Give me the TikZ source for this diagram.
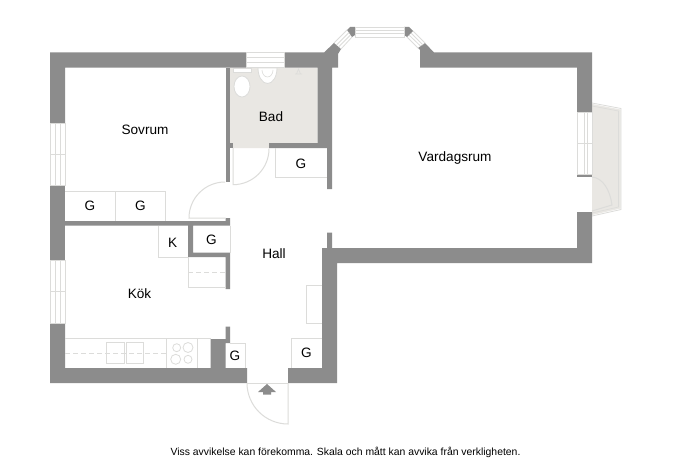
\documentclass[tikz,border=0pt]{standalone}
\usepackage{fontspec}
\setmainfont{Liberation Sans}
\definecolor{wallc}{HTML}{8C8C8C}
\definecolor{floorc}{HTML}{E9E7E3}
\definecolor{linec}{HTML}{DCDCDA}
\tikzset{
 wall/.style={fill=wallc,draw=none},
 fixture/.style={draw=linec,line width=0.8pt},
 thin fixture/.style={draw=linec,line width=0.6pt},
 room/.style={font=\fontsize{13.6}{15}\selectfont,text=black,inner sep=0pt},
 tag/.style={font=\fontsize{13.6}{15}\selectfont,text=black,inner sep=0pt},
 note/.style={font=\fontsize{10.4}{12}\selectfont,text=black,inner sep=0pt}
}
\begin{document}
\begin{tikzpicture}[x=1pt,y=-1pt]
\useasboundingbox (0,0) rectangle (690,460);
\fill[white] (0,0) rectangle (690,460);
% floors
\fill[floorc] (230,67.5) rectangle (317.5,143) (233,143) rectangle (269,148);
\fill[floorc] (592,104) -- (620.5,109.5) -- (620.5,208.5) -- (592,215) -- cycle;
\draw[fixture] (592,103) -- (621,108.5) -- (621,209.5) -- (592,216);
\draw[thin fixture] (592,106) -- (618.5,111) -- (618.5,207) -- (592,213);
% balcony door
\draw[fixture,line width=1pt] (592,177) .. controls (603,178) and (610,190) .. (612,205) -- (592,211);
% outer walls
\fill[wall] (50,52.5) -- (246,52.5) -- (246,67.5) -- (65,67.5) -- (65,123) -- (50,123) -- cycle;
\fill[wall] (284,52.5) -- (324,52.5) -- (334,43) -- (341,49) -- (338,54) -- (338,67.5) -- (332,67.5) -- (332,189) -- (327,189) -- (327,148) -- (269,148) -- (269,143) -- (317.5,143) -- (317.5,67.5) -- (284,67.5) -- cycle;
\fill[wall] (50,185) rectangle (65,260);
\fill[wall] (50,323) -- (65,323) -- (65,368) -- (210.7,368) -- (210.7,339) -- (225.5,339) -- (225.5,326.7) -- (230,326.7) -- (230,343) -- (225.5,343) -- (225.5,368) -- (247,368) -- (247,383) -- (50,383) -- cycle;
\fill[wall] (288,368) -- (322,368) -- (322,248) -- (327,248) -- (327,232.7) -- (332,232.7) -- (332,248) -- (577,248) -- (577,212) -- (592,212) -- (592,263) -- (337,263) -- (337,383) -- (288,383) -- cycle;
\fill[wall] (420,52.5) -- (592,52.5) -- (592,112) -- (577,112) -- (577,67.5) -- (420,67.5) -- (420,50) -- (418,48) -- (425,43) -- (434,52.5) -- cycle;
\fill[wall] (577,174) rectangle (592,177);
% bay window piers
\fill[wall] (347,30) -- (350,27) -- (355,27) -- (355,35) -- (352,37) -- cycle;
\fill[wall] (404,27) -- (409,27) -- (413,31) -- (407,37) -- (404,35) -- cycle;
% inner walls
\fill[wall] (225.5,67.5) rectangle (230,182);
\fill[wall] (230,143) rectangle (233,148);
\fill[wall] (65,221) -- (225.5,221) -- (225.5,218) -- (230,218) -- (230,225.6) -- (193,225.6) -- (193,252.7) -- (230,252.7) -- (230,289) -- (225.5,289) -- (225.5,257) -- (188,257) -- (188,225.6) -- (65,225.6) -- cycle;
% windows
\draw[fixture] (246,52.5) rectangle (284,67.5) (246,57.5) -- (284,57.5) (246,62.5) -- (284,62.5);
\draw[fixture] (50,123) rectangle (65,185) (55,123) -- (55,185) (60,123) -- (60,185) (50,154) -- (65,154);
\draw[fixture] (50,260) rectangle (65,323) (55,260) -- (55,323) (60,260) -- (60,323) (50,291.5) -- (65,291.5);
\draw[fixture] (577,112) rectangle (592,174) (584,112) -- (584,174) (587,112) -- (587,174) (577,143) -- (592,143);
\draw[fixture] (355,27) rectangle (404,37) (355,30.5) -- (404,30.5) (355,33.5) -- (404,33.5);
\draw[fixture] (347,30) -- (334,43) (352,37) -- (341,49) (349,32.5) -- (336.5,45) (350.5,35) -- (338.5,47);
\draw[fixture] (413,31) -- (425,43) (407,37) -- (418,48) (411,33) -- (423,45) (409,35) -- (420.5,46);
% doors
\draw[fixture,line width=1pt] (233,148) -- (233,184.7) arc[start angle=90,end angle=0,radius=36];
\draw[fixture,line width=1pt] (225.5,218) -- (189,218) arc[start angle=180,end angle=270,radius=36];
\draw[fixture,line width=1pt] (288,383) -- (288,424) arc[start angle=90,end angle=180,radius=41];
\draw[thin fixture] (247,383) -- (288,383);
% cupboards
\draw[fixture] (65,191.7) -- (165,191.7) -- (165,221) (115,191.7) -- (115,221);
\draw[fixture] (158,225.6) -- (158,257) -- (188,257);
\draw[fixture] (230,225.6) -- (230,252.7);
\draw[fixture] (188,257) -- (188,287) -- (225.5,287);
\draw[fixture,dashed,dash pattern=on 5pt off 3pt] (188,272) -- (225.5,272);
\draw[fixture] (322,285.7) -- (306.7,285.7) -- (306.7,323) -- (322,323);
\draw[fixture] (322,338) -- (291.7,338) -- (291.7,368);
\draw[fixture] (230,343) -- (245.7,343) -- (245.7,368);
\draw[fixture] (275,148) -- (275,177.7) -- (327,177.7);
% kitchen
\draw[fixture] (65,338.3) -- (210.7,338.3);
\draw[fixture,dashed,dash pattern=on 5pt off 3pt] (65,353.3) -- (166.7,353.3);
\draw[fixture,line width=1pt] (106.7,342.7) rectangle (124,363.3) (126,342.7) rectangle (143.3,363.3);
\draw[fixture] (166.7,338.3) -- (166.7,368) (197.3,338.3) -- (197.3,368);
\draw[fixture] (176.7,347.7) circle[radius=4] (188,347.5) circle[radius=5] (175.7,359.3) circle[radius=5] (188,359.3) circle[radius=4];
% bathroom fixtures
\fill[white,draw=linec,line width=0.8pt] (233,68) rectangle (251,72);
\fill[white,draw=linec,line width=0.8pt] (242,86.5) ellipse[x radius=8,y radius=10.5];
\fill[white,draw=linec,line width=0.8pt] (258,68) arc[start angle=180,end angle=0,x radius=9.5,y radius=15.5] -- cycle;
\draw[thin fixture] (262,70) arc[start angle=180,end angle=0,x radius=5.5,y radius=7];
\draw[thin fixture] (295,74) -- (302,74) (296.5,74) -- (298.5,69) -- (300.5,74);
% entrance arrow
\fill[wallc] (267,384) -- (276,392) -- (271,392) -- (271,394.5) -- (263,394.5) -- (263,392) -- (258,392) -- cycle;
% labels
\node[room] (sovrum) at (145,129.5) {Sovrum};
\node[room] (bad) at (271,116.5) {Bad};
\node[room] (vardagsrum) at (455,157.5) {Vardagsrum};
\node[room] (hall) at (274,253.5) {Hall};
\node[room] (kok) at (139.5,293.5) {Kök};
\node[tag] (g1) at (301,164) {G};
\node[tag] (g2) at (90,206) {G};
\node[tag] (g3) at (140.5,206) {G};
\node[tag] (k1) at (172.7,243) {K};
\node[tag] (g4) at (211.5,239.5) {G};
\node[tag] (g5) at (235,355.5) {G};
\node[tag] (g6) at (306.5,353) {G};
\node[note] (disclaimer) at (345.5,452.5) {Viss avvikelse kan förekomma. Skala och mått kan avvika från verkligheten.};
\end{tikzpicture}
\end{document}
